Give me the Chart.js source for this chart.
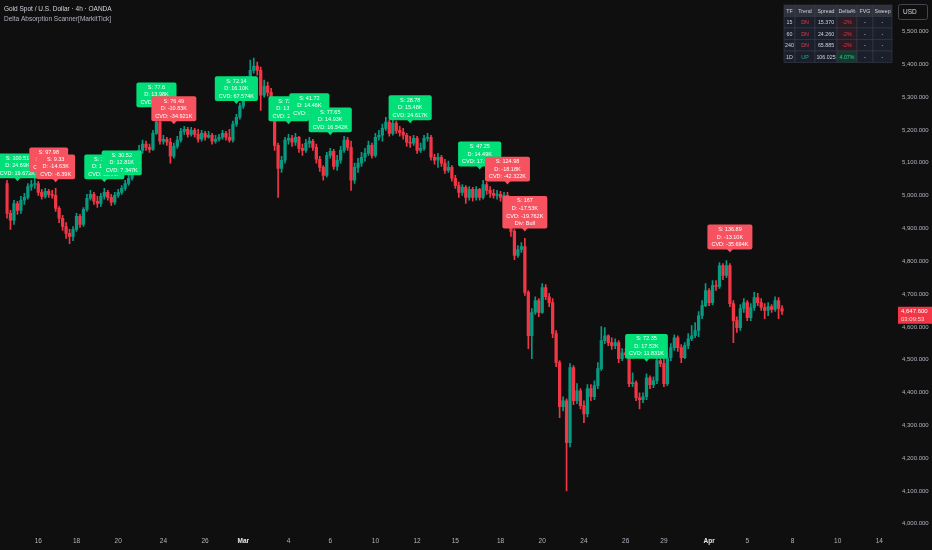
<!DOCTYPE html>
<html>
<head>
<meta charset="utf-8">
<script src="https://cdn.jsdelivr.net/npm/chart.js@4.4.1/dist/chart.umd.min.js"></script>
<style>
html, body { margin: 0; padding: 0; background: #0f0f0f; }
#wrap { position: relative; width: 932px; height: 550px; }
</style>
</head>
<body>
<div id="wrap"><canvas id="myChart"></canvas></div>
<script>
// 4h candles, open of each bar = previous close
var firstOpen = 5037;
var closes = [
    4946, 4925, 4976, 4955, 4986, 4995, 5028, 5034, 5037, 5010,
    4998, 5013, 5004, 5001, 4961, 4931, 4906, 4885, 4876, 4897,
    4937, 4912, 4958, 4992, 5004, 4983, 4976, 4998, 5010, 4995,
    4980, 5001, 5010, 5022, 5037, 5053, 5080, 5114, 5138, 5157,
    5147, 5141, 5190, 5224, 5166, 5172, 5163, 5120, 5150, 5169,
    5196, 5202, 5187, 5199, 5187, 5172, 5190, 5178, 5184, 5166,
    5172, 5178, 5190, 5178, 5169, 5218, 5239, 5273, 5315, 5352,
    5382, 5395, 5382, 5306, 5334, 5315, 5291, 5153, 5083, 5108,
    5169, 5175, 5163, 5178, 5144, 5138, 5160, 5166, 5147, 5111,
    5086, 5062, 5123, 5135, 5089, 5108, 5138, 5169, 5147, 5047,
    5086, 5099, 5117, 5129, 5153, 5123, 5178, 5184, 5205, 5224,
    5190, 5221, 5199, 5193, 5184, 5163, 5160, 5175, 5138, 5144,
    5175, 5178, 5117, 5108, 5117, 5099, 5077, 5086, 5053, 5031,
    5010, 5025, 4995, 5019, 4995, 5019, 4995, 5034, 5016, 5007,
    5001, 5004, 4995, 5001, 4986, 4891, 4818, 4836, 4845, 4705,
    4573, 4644, 4680, 4644, 4720, 4692, 4674, 4580, 4491, 4357,
    4375, 4247, 4476, 4375, 4405, 4360, 4335, 4412, 4387, 4421,
    4473, 4558, 4573, 4552, 4543, 4552, 4503, 4521, 4515, 4427,
    4430, 4384, 4378, 4387, 4445, 4424, 4436, 4497, 4488, 4427,
    4506, 4537, 4567, 4537, 4506, 4543, 4564, 4573, 4589, 4634,
    4665, 4711, 4674, 4726, 4723, 4787, 4757, 4787, 4671, 4619,
    4598, 4656, 4674, 4628, 4659, 4689, 4674, 4659, 4650, 4662,
    4653, 4680, 4656, 4647.6
];
var highs = [
    5047, 4955, 4986, 4983, 4998, 5007, 5037, 5047, 5053, 5044,
    5019, 5022, 5019, 5016, 5022, 4967, 4940, 4918, 4897, 4906,
    4946, 4943, 4964, 5004, 5016, 5010, 4998, 5007, 5022, 5016,
    5004, 5010, 5019, 5031, 5047, 5065, 5092, 5129, 5153, 5169,
    5166, 5157, 5199, 5242, 5230, 5184, 5178, 5175, 5160, 5181,
    5205, 5211, 5208, 5208, 5205, 5202, 5199, 5196, 5196, 5190,
    5184, 5187, 5199, 5196, 5202, 5227, 5248, 5282, 5327, 5364,
    5413, 5419, 5407, 5392, 5352, 5346, 5327, 5300, 5160, 5120,
    5178, 5187, 5184, 5190, 5181, 5157, 5172, 5178, 5172, 5157,
    5120, 5092, 5132, 5144, 5141, 5123, 5150, 5181, 5178, 5166,
    5099, 5114, 5132, 5144, 5166, 5160, 5190, 5199, 5218, 5239,
    5230, 5230, 5227, 5211, 5205, 5190, 5181, 5184, 5181, 5160,
    5184, 5190, 5184, 5126, 5129, 5123, 5111, 5105, 5092, 5062,
    5041, 5034, 5031, 5028, 5025, 5028, 5022, 5047, 5041, 5028,
    5019, 5016, 5013, 5010, 5010, 4992, 4897, 4848, 4857, 4870,
    4711, 4656, 4692, 4686, 4732, 4729, 4702, 4686, 4589, 4497,
    4387, 4381, 4488, 4482, 4427, 4412, 4375, 4424, 4424, 4436,
    4491, 4601, 4598, 4576, 4567, 4564, 4558, 4534, 4534, 4525,
    4460, 4436, 4399, 4399, 4457, 4451, 4448, 4509, 4509, 4506,
    4518, 4549, 4576, 4573, 4546, 4552, 4580, 4604, 4613, 4647,
    4680, 4732, 4717, 4741, 4741, 4796, 4793, 4802, 4793, 4680,
    4631, 4668, 4686, 4680, 4671, 4705, 4702, 4686, 4671, 4674,
    4668, 4692, 4689, 4665
];
var lows = [
    4931, 4897, 4912, 4943, 4946, 4973, 4989, 5016, 5022, 5001,
    4989, 4992, 4995, 4992, 4952, 4918, 4894, 4870, 4854, 4863,
    4891, 4903, 4906, 4952, 4986, 4973, 4964, 4967, 4989, 4986,
    4970, 4973, 4995, 5004, 5016, 5031, 5047, 5074, 5108, 5129,
    5138, 5132, 5138, 5187, 5157, 5157, 5153, 5099, 5114, 5144,
    5163, 5187, 5178, 5181, 5178, 5163, 5166, 5169, 5175, 5157,
    5160, 5166, 5172, 5169, 5163, 5163, 5211, 5233, 5266, 5306,
    5346, 5373, 5367, 5260, 5300, 5303, 5279, 5138, 4995, 5071,
    5099, 5157, 5150, 5153, 5132, 5123, 5132, 5147, 5138, 5099,
    5074, 5047, 5056, 5114, 5080, 5077, 5099, 5132, 5138, 5016,
    5037, 5071, 5089, 5105, 5123, 5114, 5117, 5169, 5166, 5199,
    5181, 5184, 5190, 5181, 5172, 5150, 5147, 5153, 5129, 5132,
    5138, 5166, 5108, 5096, 5086, 5089, 5068, 5071, 5044, 5022,
    4995, 5001, 4976, 4986, 4983, 4986, 4986, 4989, 5004, 4995,
    4992, 4989, 4983, 4989, 4973, 4876, 4805, 4812, 4827, 4696,
    4534, 4503, 4638, 4631, 4641, 4683, 4662, 4567, 4479, 4323,
    4344, 4100, 4234, 4363, 4366, 4350, 4308, 4326, 4375, 4378,
    4412, 4467, 4549, 4543, 4531, 4534, 4491, 4497, 4506, 4418,
    4418, 4375, 4350, 4369, 4378, 4412, 4415, 4427, 4479, 4418,
    4421, 4497, 4528, 4525, 4491, 4503, 4534, 4558, 4567, 4570,
    4625, 4662, 4665, 4668, 4711, 4717, 4744, 4750, 4662, 4552,
    4583, 4589, 4644, 4619, 4619, 4650, 4665, 4650, 4625, 4634,
    4644, 4647, 4625, 4638
];

// bar slots on the time axis (data + empty future space)
var slotCount = 256;
var tickSlots = [9, 20, 32, 45, 57, 68, 81, 93, 106, 118, 129, 142, 154, 166, 178, 189, 202, 213, 226, 239, 251];
var tickTexts = ['16', '18', '20', '24', '26', 'Mar', '4', '6', '10', '12', '15', '18', '20', '24', '26', '29', 'Apr', '5', '8', '10', '14'];
var priceTicks = [4000, 4100, 4200, 4300, 4400, 4500, 4600, 4700, 4800, 4900, 5000, 5100, 5200, 5300, 5400, 5500];

// scanner signals: bar slot, price at the pointer, bullish?, text lines
var sigSlots = [3, 12, 14, 28, 33, 43, 48, 66, 81, 87, 93, 116, 136, 144, 149, 184, 208];
var sigPrices = [5044, 5062, 5041, 5041, 5053, 5260, 5218, 5279, 5218, 5227, 5184, 5221, 5080, 5034, 4891, 4494, 4827];
var sigUp = [true, false, false, true, true, true, false, true, true, true, true, true, true, false, false, true, false];
var sigTexts = [
    ['S: 100.51', 'D: 24.69K', 'CVD: 19.672K'],
    ['S: 97.98', 'D: -16.21K', 'CVD: -4.17K'],
    ['S: 9.33', 'D: -14.63K', 'CVD: -6.39K'],
    ['S: 33.12', 'D: 15.24K', 'CVD: 13.91K'],
    ['S: 30.52', 'D: 12.81K', 'CVD: 7.347K'],
    ['S: 77.6', 'D: 13.98K', 'CVD: 22.41K'],
    ['S: 76.49', 'D: -10.83K', 'CVD: -34.921K'],
    ['S: 72.14', 'D: 16.10K', 'CVD: 67.574K'],
    ['S: 73.08', 'D: 13.37K', 'CVD: 22.18K'],
    ['S: 41.72', 'D: 14.46K', 'CVD: 13.56K'],
    ['S: 77.65', 'D: 14.93K', 'CVD: 16.542K'],
    ['S: 28.78', 'D: 15.48K', 'CVD: 24.617K'],
    ['S: 47.25', 'D: 14.49K', 'CVD: 17.963K'],
    ['S: 124.98', 'D: -18.18K', 'CVD: -42.322K'],
    ['S: 167', 'D: -17.53K', 'CVD: -19.762K', 'Div: Bull'],
    ['S: 72.35', 'D: 17.52K', 'CVD: 11.831K'],
    ['S: 136.89', 'D: -13.10K', 'CVD: -35.694K']
];

// multi timeframe table
var tableHead = ['TF', 'Trend', 'Spread', 'Delta%', 'FVG', 'Sweep'];
var tfRows = ['15', '60', '240', '1D'];
var trendRows = ['DN', 'DN', 'DN', 'UP'];
var spreadRows = ['15.370', '24.260', '65.885', '106.025'];
var deltaRows = ['-2%', '-2%', '-2%', '4.07%'];
var fvgRows = ['-', '-', '-', '-'];
var sweepRows = ['-', '-', '-', '-'];

var lastCountdown = '03:09:53';

var UP = '#089981';
var DOWN = '#f23645';
var FONT = '"Liberation Sans", Arial, sans-serif';

var opens = closes.map(function(c, i) { return i === 0 ? firstOpen : closes[i - 1]; });
var slots = [];
for (var s = 0; s < slotCount; s++) slots.push(s);
var tickMap = {};
tickSlots.forEach(function(s, k) { tickMap[s] = tickTexts[k]; });

function candleColor(ctx) {
    var i = ctx.dataIndex;
    return closes[i] >= opens[i] ? UP : DOWN;
}

function fmtPrice(v) {
    return v.toLocaleString('en-US', { minimumFractionDigits: 3, maximumFractionDigits: 3 });
}

function roundBox(ctx, x, y, w, h, r) {
    ctx.beginPath();
    ctx.moveTo(x + r, y);
    ctx.arcTo(x + w, y, x + w, y + h, r);
    ctx.arcTo(x + w, y + h, x, y + h, r);
    ctx.arcTo(x, y + h, x, y, r);
    ctx.arcTo(x, y, x + w, y, r);
    ctx.closePath();
}

var overlay = {
    id: 'overlay',
    beforeDraw: function(chart) {
        var ctx = chart.ctx;
        ctx.save();
        ctx.fillStyle = '#0f0f0f';
        ctx.fillRect(0, 0, chart.width, chart.height);
        ctx.restore();
    },
    afterDraw: function(chart) {
        var ctx = chart.ctx;
        var xs = chart.scales.x, ys = chart.scales.y;
        ctx.save();

        // signal labels
        sigSlots.forEach(function(slot, k) {
            var px = xs.getPixelForValue(slot);
            var py = ys.getPixelForValue(sigPrices[k]);
            var lines = sigTexts[k];
            ctx.font = '5.5px ' + FONT;
            var w = Math.max.apply(null, lines.map(function(t) { return ctx.measureText(t).width; })) + 8;
            var lh = 7.6;
            var h = lines.length * lh + 2;
            var top = py - 3 - h;
            ctx.fillStyle = sigUp[k] ? '#00df78' : '#f7525f';
            roundBox(ctx, px - w / 2, top, w, h, 2);
            ctx.fill();
            ctx.beginPath();
            ctx.moveTo(px - 3, top + h - 0.5);
            ctx.lineTo(px + 3, top + h - 0.5);
            ctx.lineTo(px, py);
            ctx.closePath();
            ctx.fill();
            ctx.fillStyle = '#ffffff';
            ctx.textAlign = 'center';
            ctx.textBaseline = 'middle';
            lines.forEach(function(t, j) { ctx.fillText(t, px, top + 1 + lh * (j + 0.5)); });
        });

        // title
        ctx.textAlign = 'left';
        ctx.textBaseline = 'middle';
        ctx.fillStyle = '#d1d4dc';
        ctx.font = '6.5px ' + FONT;
        ctx.fillText('Gold Spot / U.S. Dollar \u00b7 4h \u00b7 OANDA', 4, 9);
        ctx.fillStyle = '#b2b5be';
        ctx.fillText('Delta Absorption Scanner[MarkitTick]', 4, 19);

        // table
        var colX = [784, 795, 815, 837, 857, 873, 892];
        var rowY = [5, 16.5, 28, 39.5, 51, 62.5];
        var rows = [tableHead];
        for (var r = 0; r < tfRows.length; r++) {
            rows.push([tfRows[r], trendRows[r], spreadRows[r], deltaRows[r], fvgRows[r], sweepRows[r]]);
        }
        ctx.font = '5.3px ' + FONT;
        ctx.textAlign = 'center';
        rows.forEach(function(row, ri) {
            row.forEach(function(txt, ci) {
                var x0 = colX[ci], y0 = rowY[ri];
                var bg = ri === 0 ? '#2f323c' : '#1b1f2b';
                var fg = '#d1d4dc';
                if (ri > 0 && ci === 1) fg = txt === 'UP' ? '#22ab94' : '#f23645';
                if (ri > 0 && ci === 3) {
                    var pos = txt.charAt(0) !== '-';
                    bg = pos ? '#123b30' : '#2a1b24';
                    fg = pos ? '#2fd18f' : '#f23645';
                }
                ctx.fillStyle = bg;
                ctx.fillRect(x0, y0, colX[ci + 1] - x0, rowY[ri + 1] - y0);
                ctx.strokeStyle = '#3a3e4a';
                ctx.lineWidth = 0.6;
                ctx.strokeRect(x0, y0, colX[ci + 1] - x0, rowY[ri + 1] - y0);
                ctx.fillStyle = fg;
                ctx.fillText(txt, (x0 + colX[ci + 1]) / 2, (y0 + rowY[ri + 1]) / 2 + 0.5);
            });
        });

        // currency box
        ctx.strokeStyle = '#434651';
        ctx.lineWidth = 1;
        roundBox(ctx, 898.5, 4.5, 29, 15, 2);
        ctx.stroke();
        ctx.fillStyle = '#d1d4dc';
        ctx.textAlign = 'left';
        ctx.font = '6.5px ' + FONT;
        ctx.fillText('USD', 903, 12.5);

        // last price tag
        var last = closes[closes.length - 1];
        var ly = ys.getPixelForValue(last);
        ctx.fillStyle = '#f23645';
        ctx.fillRect(898, ly - 4.5, 34, 17);
        ctx.fillStyle = '#ffffff';
        ctx.font = '6px ' + FONT;
        ctx.fillText(fmtPrice(last), 901, ly);
        ctx.fillStyle = '#ffd6da';
        ctx.fillText(lastCountdown, 901, ly + 8);

        ctx.restore();
    }
};

var ctx = document.getElementById('myChart');
var myChart = new Chart(ctx, {
    type: 'bar',
    data: {
        labels: slots,
        datasets: [{
            label: 'wick',
            data: lows.map(function(l, i) { return [l, highs[i]]; }),
            backgroundColor: candleColor,
            barThickness: 1,
            grouped: false,
            order: 2
        }, {
            label: 'body',
            data: closes.map(function(c, i) { return [opens[i], c]; }),
            backgroundColor: candleColor,
            barThickness: 2.6,
            minBarLength: 1,
            grouped: false,
            order: 1
        }]
    },
    options: {
        responsive: true,
        maintainAspectRatio: false,
        animation: false,
        layout: { padding: 0 },
        plugins: {
            legend: { display: false },
            tooltip: { enabled: false }
        },
        scales: {
            x: {
                grid: { display: false, drawTicks: false },
                border: { display: false },
                ticks: {
                    autoSkip: false,
                    maxRotation: 0,
                    minRotation: 0,
                    padding: 7,
                    callback: function(v, i) { return tickMap[i] || ''; },
                    color: function(c) { return (tickMap[c.index] === 'Mar' || tickMap[c.index] === 'Apr') ? '#e6e8ee' : '#b2b5be'; },
                    font: function(c) {
                        var bold = tickMap[c.index] === 'Mar' || tickMap[c.index] === 'Apr';
                        return { size: 6.5, family: FONT, weight: bold ? 'bold' : 'normal' };
                    }
                },
                afterFit: function(s) { s.height = 20; }
            },
            y: {
                position: 'right',
                min: 3981,
                max: 5564,
                grid: { display: false, drawTicks: false },
                border: { display: false },
                afterBuildTicks: function(s) {
                    s.ticks = priceTicks.map(function(v) { return { value: v }; });
                },
                ticks: {
                    padding: 7,
                    color: '#b2b5be',
                    font: { size: 6, family: FONT },
                    callback: function(v) { return fmtPrice(v); }
                },
                afterFit: function(s) { s.width = 37; }
            }
        }
    },
    plugins: [overlay]
});
</script>
</body>
</html>
